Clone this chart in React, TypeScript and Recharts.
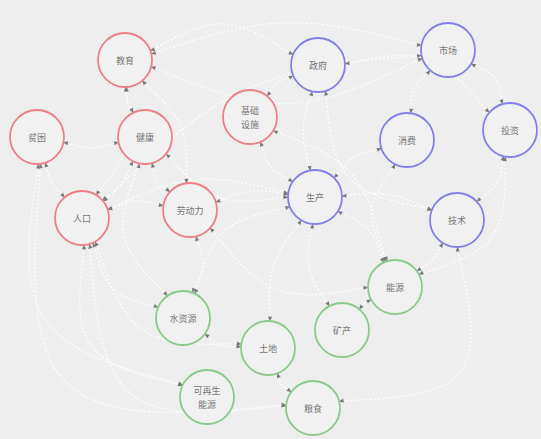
import { ComposedChart, Line, Scatter, XAxis, YAxis } from "recharts";

// nodes of the system diagram
const nodeNames = [
  "教育", "贫困", "健康", "基础\n设施", "人口", "劳动力",
  "政府", "市场", "消费", "投资", "生产", "技术",
  "能源", "矿产", "水资源", "土地", "可再生\n能源", "粮食",
];
const nodeX = [125, 37, 145, 250, 82, 190, 318, 448, 407, 510, 315, 457, 395, 342, 183, 268, 207, 313];
const nodeY = [60, 137, 137, 117, 218, 210, 65, 50, 140, 130, 197, 220, 287, 330, 318, 348, 397, 408];
const nodeGroup = [0, 0, 0, 0, 0, 0, 1, 1, 1, 1, 1, 1, 2, 2, 2, 2, 2, 2];

// links (index into nodeNames) and how much each curve bows
const edgeFrom = [4, 4, 4, 4, 4, 4, 4, 4, 4, 0, 0, 0, 1, 2, 5, 3, 3, 6, 6, 7, 7, 8, 9, 11, 10, 10, 10, 10, 11, 11, 12, 14, 15, 9, 7, 1, 2, 5, 8, 4, 5, 2, 1, 0, 3, 6];
const edgeTo = [0, 1, 2, 5, 14, 17, 15, 16, 7, 2, 5, 6, 2, 5, 10, 10, 6, 10, 9, 8, 9, 10, 11, 10, 13, 12, 14, 15, 12, 17, 13, 15, 17, 12, 0, 16, 10, 14, 12, 10, 12, 14, 17, 7, 12, 11];
const edgeBend = [0.15, -0.1, 0.1, -0.12, 0.2, 0.35, 0.25, 0.3, -0.12, 0.1, -0.15, -0.2, 0.1, 0.15, -0.1, 0.15, -0.12, 0.1, -0.2, 0.15, -0.2, 0.12, -0.15, 0.1, 0.15, -0.15, 0.2, 0.12, -0.1, -0.4, 0.1, 0.15, 0.15, -0.25, -0.15, 0.3, 0.18, -0.15, 0.2, -0.12, 0.2, 0.22, 0.4, -0.1, -0.18, 0.25];

const W = 541;
const H = 439;
const R = 27;
const groupColors = ["#ec7f88", "#8280e8", "#8cc98c"];

const nodes = nodeNames.map((name, i) => ({ name, x: nodeX[i], y: nodeY[i], g: nodeGroup[i] }));

const edges = edgeFrom.map((f, i) => {
  const a = nodes[f];
  const b = nodes[edgeTo[i]];
  const dx = b.x - a.x;
  const dy = b.y - a.y;
  const d = Math.hypot(dx, dy);
  const cx = (a.x + b.x) / 2 - (dy / d) * edgeBend[i] * d;
  const cy = (a.y + b.y) / 2 + (dx / d) * edgeBend[i] * d;
  const tip = (n: { x: number; y: number }) => {
    const ux = cx - n.x;
    const uy = cy - n.y;
    const l = Math.hypot(ux, uy);
    return { x: n.x + (ux / l) * (R + 3), y: n.y + (uy / l) * (R + 3), ang: Math.atan2(uy, ux), tip: true };
  };
  return [tip(a), { x: cx, y: cy }, tip(b)];
});

const NodeShape = (props: any) => {
  const { cx, cy, payload } = props;
  const lines = payload.name.split("\n");
  return (
    <g>
      <circle cx={cx} cy={cy} r={R} fill="#f1f1f1" stroke={groupColors[payload.g]} strokeWidth={1.8} />
      {lines.map((t: string, k: number) => (
        <text
          key={k}
          x={cx}
          y={cy + (k - (lines.length - 1) / 2) * 14}
          textAnchor="middle"
          dominantBaseline="central"
          fontSize={9}
          fill="#777"
          fontFamily="Noto Sans CJK SC"
        >
          {t}
        </text>
      ))}
    </g>
  );
};

const tipDot = (ei: number) => (props: any) => {
  const { cx, cy, payload, index } = props;
  if (!payload || !payload.tip) return <g key={`d${ei}-${index}`} />;
  const a = payload.ang;
  // small arrow pointing back to the node
  const bx = cx - Math.cos(a) * 3.5;
  const by = cy - Math.sin(a) * 3.5;
  const px = -Math.sin(a) * 2;
  const py = Math.cos(a) * 2;
  const fx = cx + Math.cos(a) * 1.5;
  const fy = cy + Math.sin(a) * 1.5;
  return (
    <polygon
      key={`d${ei}-${index}`}
      points={`${bx},${by} ${fx + px},${fy + py} ${fx - px},${fy - py}`}
      fill="#7a7a7a"
    />
  );
};

export default function App() {
  return (
    <div style={{ position: "absolute", left: 0, top: 0, width: W, height: H, background: "#eeeeee" }}>
      <ComposedChart width={W} height={H} margin={{ top: 0, right: 0, bottom: 0, left: 0 }}>
        <XAxis type="number" dataKey="x" domain={[0, W]} hide allowDataOverflow />
        <YAxis type="number" dataKey="y" domain={[0, H]} reversed hide allowDataOverflow />
        {edges.map((e, i) => (
          <Line
            key={`e${i}`}
            data={e}
            dataKey="y"
            type="natural"
            stroke="#ffffff"
            strokeWidth={1.3}
            strokeOpacity={0.9}
            strokeDasharray="2 2"
            dot={tipDot(i)}
            activeDot={false}
            isAnimationActive={false}
          />
        ))}
        <Scatter data={nodes} dataKey="y" shape={<NodeShape />} isAnimationActive={false} />
      </ComposedChart>
    </div>
  );
}
